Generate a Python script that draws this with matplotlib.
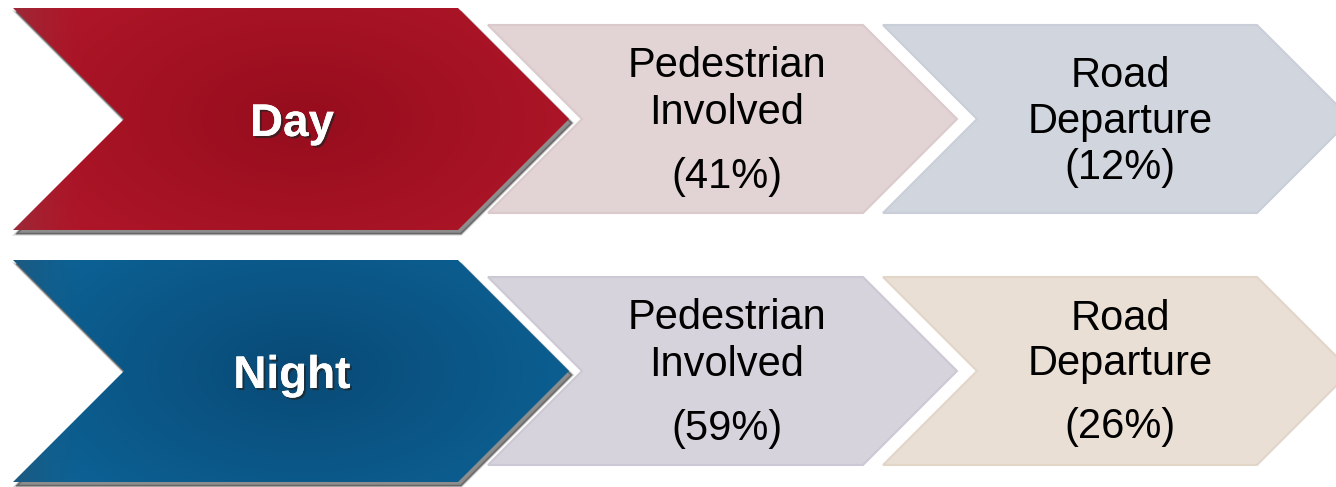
import numpy as np
import matplotlib
matplotlib.use("Agg")
import matplotlib.pyplot as plt
from matplotlib.patches import Polygon
from matplotlib import patheffects as pe
from matplotlib.colors import to_rgb

# ---- data -------------------------------------------------------------
periods = ["Day", "Night"]
crash_types = [["Pedestrian", "Involved"], ["Road", "Departure"]]
day_shares = [41, 12]
night_shares = [59, 26]

# ---- styling ----------------------------------------------------------
W, H = 1336, 487
period_center = {"Day": "#960d1d", "Night": "#094a76"}
period_edge = {"Day": "#ae1628", "Night": "#0c6194"}
period_rim = {"Day": "#9c2a38", "Night": "#1d5a80"}
step_fill = {"Day": ["#e2d3d4", "#d1d5dd"], "Night": ["#d6d3dc", "#e9dfd5"]}
step_edge = {"Day": ["#dacacb", "#c9ced8"], "Night": ["#cdc9d4", "#e2d6c9"]}

fig = plt.figure(figsize=(W / 100, H / 100), dpi=100)
ax = fig.add_axes([0, 0, 1, 1])
ax.set_xlim(0, W)
ax.set_ylim(H, 0)
ax.axis("off")
plt.rcParams["font.family"] = ["Liberation Sans", "DejaVu Sans"]


def chevron(x_left, x_right, y_top, y_bot):
    d = (y_bot - y_top) / 2.0
    yc = (y_top + y_bot) / 2.0
    return np.array([[x_left, y_top], [x_right, y_top], [x_right + d, yc],
                     [x_right, y_bot], [x_left, y_bot], [x_left + d, yc]])


def gradient_image(pts, c_center, c_edge, c_rim):
    x0, x1 = pts[:, 0].min(), pts[:, 0].max()
    y0, y1 = pts[:, 1].min(), pts[:, 1].max()
    nx, ny = int(x1 - x0) + 1, int(y1 - y0) + 1
    xs = np.linspace(x0, x1, nx)
    ys = np.linspace(y0, y1, ny)
    X, Y = np.meshgrid(xs, ys)
    cx, cy = (x0 + x1) / 2 + 10, (y0 + y1) / 2
    r = np.sqrt(((X - cx) / 300.0) ** 2 + ((Y - cy) / 170.0) ** 2)
    r = np.clip(r, 0, 1)[..., None]
    cc, ce, cr = (np.array(to_rgb(c)) for c in (c_center, c_edge, c_rim))
    img = cc * (1 - r) + ce * r
    rim = np.clip(1 - (X - x0) / 70.0, 0, 1)[..., None] ** 1.5
    img = img * (1 - rim) + cr * rim
    return img, (x0, x1, y1, y0)


rows = [("Day", 8, day_shares), ("Night", 260, night_shares)]
text_kw = dict(ha="center", va="baseline", fontsize=30, color="black",
               family=["Liberation Sans", "DejaVu Sans"])
# baselines of the three label lines, relative to the row top
step_baselines = {
    ("Day", 0): [69, 116, 180], ("Day", 1): [79, 125, 171],
    ("Night", 0): [69, 116, 180], ("Night", 1): [70, 115, 178],
}
step_x = [(488, 863, 727), (883, 1257, 1120)]

for name, top, shares in rows:
    big = chevron(13, 458, top, top + 222)
    small_top, small_bot = top + 17, top + 205

    # pastel steps
    for k, (xl, xr, xc) in enumerate(step_x):
        pts = chevron(xl, xr, small_top, small_bot)
        ax.add_patch(Polygon(pts, closed=True, facecolor=step_fill[name][k],
                             edgecolor=step_edge[name][k], lw=1.5, zorder=1))
        lines = crash_types[k] + [f"({shares[k]}%)"]
        for line, yb in zip(lines, step_baselines[(name, k)]):
            ax.text(xc, top + yb, line, zorder=6, **text_kw)

    # white halo around the period chevron
    ax.add_patch(Polygon(big, closed=True, facecolor="white", edgecolor="white",
                         lw=7, joinstyle="miter", zorder=2))
    # soft drop shadow
    for i, a in enumerate([0.10, 0.14, 0.20, 0.30]):
        off = np.array([3.0, 4.0])
        ax.add_patch(Polygon(big + off, closed=True, facecolor="#3a3a3a",
                             edgecolor="#3a3a3a", lw=2.5 - 0.6 * i,
                             alpha=a, zorder=3))
    # gradient fill clipped to the chevron
    clip = Polygon(big, closed=True, facecolor="none", edgecolor="none",
                   transform=ax.transData)
    ax.add_patch(clip)
    img, ext = gradient_image(big, period_center[name], period_edge[name],
                              period_rim[name])
    im = ax.imshow(img, extent=ext, origin="lower", zorder=4,
                   interpolation="bilinear", aspect="auto")
    im.set_clip_path(clip)

    ax.text(292, top + 128, name, ha="center", va="baseline", fontsize=33,
            fontweight="bold", color="white", zorder=7,
            family=["Liberation Sans", "DejaVu Sans"],
            path_effects=[pe.withSimplePatchShadow(offset=(1.5, -1.5),
                                                   shadow_rgbFace="#222222",
                                                   alpha=0.7),
                          pe.Normal()])

ax.set_xlim(0, W)
ax.set_ylim(H, 0)
fig.savefig("out.png", dpi=100, facecolor="white")
